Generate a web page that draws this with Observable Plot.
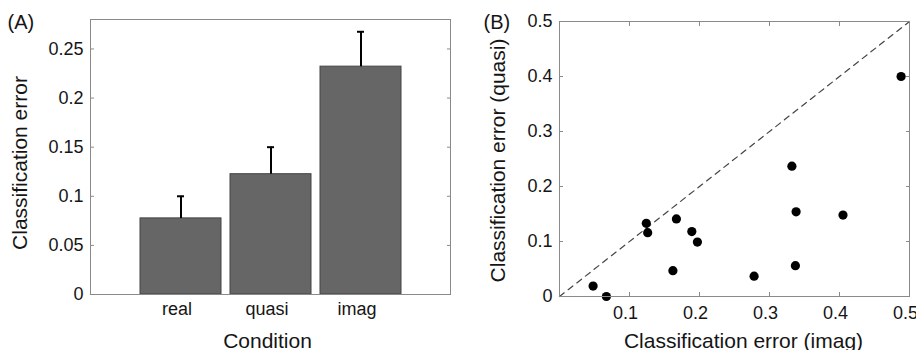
<!DOCTYPE html>
<html>
<head>
<meta charset="utf-8">
<script src="https://cdn.jsdelivr.net/npm/d3@7"></script>
<script src="https://cdn.jsdelivr.net/npm/@observablehq/plot@0.6"></script>
<style>
  html, body { margin: 0; padding: 0; background: white; }
  #wrap { position: relative; width: 916px; height: 350px; overflow: hidden; }
  #a, #b { position: absolute; top: 0; }
  #a { left: 0; }
  #b { left: 460px; }
  svg { max-width: none !important; }
</style>
</head>
<body>
<div id="wrap"><div id="a"></div><div id="b"></div></div>
<script>
// ---- Panel A data ----
const categories = ["real", "quasi", "imag"];
const meanError = [0.0775, 0.1225, 0.232];
const upperError = [0.100, 0.150, 0.2675];
const yTicksA = [0, 0.05, 0.1, 0.15, 0.2, 0.25];
const yDomainA = [0, 0.28];

// ---- Panel B data ----
const imagError  = [0.048, 0.067, 0.124, 0.126, 0.167, 0.162, 0.189, 0.197, 0.278, 0.332, 0.338, 0.337, 0.405, 0.488];
const quasiError = [0.019, 0.000, 0.133, 0.116, 0.141, 0.047, 0.118, 0.099, 0.037, 0.237, 0.154, 0.056, 0.148, 0.400];
const xTicksB = [0.1, 0.2, 0.3, 0.4, 0.5];
const yTicksB = [0, 0.1, 0.2, 0.3, 0.4, 0.5];
const domainB = [0, 0.5];

const fmt = d => String(+d.toFixed(2));
const blank = () => "";
const font = "'Liberation Sans', Arial, Helvetica, sans-serif";
const gray = "#8a8a8a";
const ink = "#151515";

const barData = categories.map((c, i) => ({condition: c, value: meanError[i], upper: upperError[i]}));
const points = imagError.map((x, i) => ({imag: x, quasi: quasiError[i]}));

const plotA = Plot.plot({
  width: 460, height: 350,
  marginLeft: 90, marginRight: 10, marginTop: 19, marginBottom: 56,
  style: {fontFamily: font, background: "white", color: ink},
  x: {domain: categories, paddingInner: 0.1, paddingOuter: 0.55, axis: null},
  y: {domain: yDomainA, axis: null},
  marks: [
    Plot.barY(barData, {x: "condition", y: "value", fill: "#666666", stroke: "#454545", strokeWidth: 1}),
    Plot.ruleX(barData, {x: "condition", y1: "value", y2: "upper", stroke: "black", strokeWidth: 2}),
    Plot.tickY(barData, {x: "condition", y: "upper", stroke: "black", strokeWidth: 2, inset: 37}),
    Plot.frame({stroke: gray}),
    Plot.axisY(yTicksA, {anchor: "left", tickSize: 0, tickPadding: 7, fontSize: 18, tickFormat: fmt, label: null}),
    Plot.axisY(yTicksA, {anchor: "left", tickSize: -4, stroke: gray, tickFormat: blank, label: null}),
    Plot.axisY(yTicksA, {anchor: "right", tickSize: -4, stroke: gray, tickFormat: blank, label: null}),
    Plot.axisX({anchor: "bottom", tickSize: 0, tickPadding: 8, fontSize: 18, dx: -4, label: null}),
    Plot.text(["Classification error"], {frameAnchor: "left", textAnchor: "middle", lineAnchor: "middle", rotate: -90, dx: -70, dy: 6, fontSize: 21, fill: ink}),
    Plot.text(["Condition"], {frameAnchor: "bottom", textAnchor: "middle", lineAnchor: "middle", dx: -3, dy: 47, fontSize: 21, fill: ink}),
    Plot.text(["(A)"], {frameAnchor: "top-left", textAnchor: "start", lineAnchor: "bottom", dx: -83, dy: 9, fontSize: 20, fill: ink})
  ]
});

const plotB = Plot.plot({
  width: 456, height: 350,
  marginLeft: 99, marginRight: 7, marginTop: 21, marginBottom: 54,
  style: {fontFamily: font, background: "white", color: ink},
  x: {domain: domainB, axis: null},
  y: {domain: domainB, axis: null},
  marks: [
    Plot.line(domainB, {x: d => d, y: d => d, stroke: "#444", strokeWidth: 1.2, strokeDasharray: "6,5"}),
    Plot.dot(points, {x: "imag", y: "quasi", r: 4.6, fill: "black", stroke: "none"}),
    Plot.frame({stroke: gray}),
    Plot.axisY(yTicksB, {anchor: "left", tickSize: 0, tickPadding: 7, fontSize: 18, tickFormat: fmt, label: null}),
    Plot.axisY(yTicksB, {anchor: "left", tickSize: -4, stroke: gray, tickFormat: blank, label: null}),
    Plot.axisY(yTicksB, {anchor: "right", tickSize: -4, stroke: gray, tickFormat: blank, label: null}),
    Plot.axisX(xTicksB, {anchor: "bottom", tickSize: 0, tickPadding: 10, fontSize: 18, dx: -4, tickFormat: fmt, label: null}),
    Plot.axisX(xTicksB, {anchor: "bottom", tickSize: -4, stroke: gray, tickFormat: blank, label: null}),
    Plot.axisX(xTicksB, {anchor: "top", tickSize: -4, stroke: gray, tickFormat: blank, label: null}),
    Plot.text(["Classification error (quasi)"], {frameAnchor: "left", textAnchor: "middle", lineAnchor: "middle", rotate: -90, dx: -61.5, dy: 1.5, fontSize: 21, fill: ink}),
    Plot.text(["Classification error (imag)"], {frameAnchor: "bottom", textAnchor: "middle", lineAnchor: "middle", dx: 9, dy: 44.5, fontSize: 21, fill: ink}),
    Plot.text(["(B)"], {frameAnchor: "top-left", textAnchor: "start", lineAnchor: "bottom", dx: -76, dy: 7, fontSize: 20, fill: ink})
  ]
});

document.getElementById("a").appendChild(plotA);
document.getElementById("b").appendChild(plotB);
</script>
</body>
</html>
